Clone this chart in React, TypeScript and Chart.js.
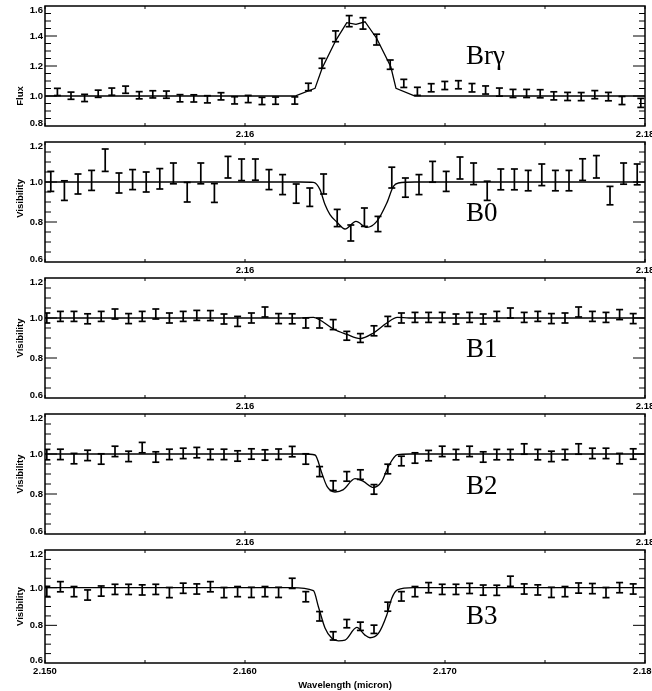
import React, { useEffect, useRef } from "react";
import { Chart, registerables } from "chart.js";
Chart.register(...registerables);

// ---------- data ----------
const fluxWave = [2.15062, 2.1513, 2.15198, 2.15266, 2.15334, 2.15403, 2.15471, 2.15539, 2.15607, 2.15675, 2.15744, 2.15812, 2.1588, 2.15948, 2.16016, 2.16085, 2.16153, 2.16249, 2.16317, 2.16385, 2.16453, 2.16521, 2.1659, 2.16658, 2.16726, 2.16794, 2.16862, 2.16931, 2.16999, 2.17067, 2.17135, 2.17203, 2.17272, 2.1734, 2.17408, 2.17476, 2.17544, 2.17613, 2.17681, 2.17749, 2.17817, 2.17885, 2.17979];
const fluxValue = [1.027, 1.002, 0.987, 1.015, 1.029, 1.042, 1.005, 1.011, 1.009, 0.985, 0.984, 0.978, 0.998, 0.971, 0.98, 0.967, 0.969, 0.97, 1.06, 1.218, 1.398, 1.499, 1.484, 1.376, 1.209, 1.084, 1.031, 1.055, 1.07, 1.075, 1.055, 1.04, 1.026, 1.017, 1.017, 1.015, 1.001, 0.997, 0.996, 1.009, 0.996, 0.97, 0.954];
const fluxError = [0.024, 0.024, 0.024, 0.024, 0.024, 0.024, 0.024, 0.024, 0.024, 0.024, 0.024, 0.024, 0.024, 0.024, 0.024, 0.024, 0.024, 0.024, 0.025, 0.033, 0.036, 0.037, 0.038, 0.036, 0.031, 0.027, 0.027, 0.027, 0.027, 0.027, 0.028, 0.027, 0.027, 0.027, 0.027, 0.027, 0.027, 0.027, 0.027, 0.027, 0.028, 0.027, 0.03];
const fluxModelWave = [2.15, 2.1625, 2.1635, 2.16386, 2.16455, 2.16509, 2.16555, 2.166, 2.16658, 2.16729, 2.16755, 2.1685, 2.18];
const fluxModelValue = [1.0, 1.0, 1.051, 1.187, 1.373, 1.489, 1.478, 1.495, 1.385, 1.195, 1.051, 1.0, 1.0];

const b0Wave = [2.15029, 2.15097, 2.15165, 2.15233, 2.15301, 2.1537, 2.15438, 2.15506, 2.15574, 2.15642, 2.15711, 2.15779, 2.15847, 2.15915, 2.15983, 2.16052, 2.1612, 2.16188, 2.16256, 2.16324, 2.16393, 2.16461, 2.16529, 2.16597, 2.16665, 2.16734, 2.16802, 2.1687, 2.16938, 2.17006, 2.17075, 2.17143, 2.17211, 2.17279, 2.17347, 2.17416, 2.17484, 2.17552, 2.1762, 2.17688, 2.17757, 2.17825, 2.17893, 2.17961];
const b0Value = [1.003, 0.957, 0.99, 1.008, 1.109, 0.995, 1.012, 1.0, 1.016, 1.043, 0.949, 1.043, 0.945, 1.074, 1.061, 1.062, 1.012, 0.987, 0.942, 0.924, 0.99, 0.82, 0.745, 0.824, 0.79, 1.022, 0.972, 0.987, 1.051, 1.003, 1.07, 1.041, 0.956, 1.013, 1.013, 1.007, 1.036, 1.007, 1.007, 1.062, 1.076, 0.932, 1.042, 1.038];
const b0Error = [0.05, 0.049, 0.05, 0.05, 0.056, 0.05, 0.05, 0.05, 0.051, 0.052, 0.049, 0.052, 0.047, 0.054, 0.054, 0.053, 0.05, 0.05, 0.048, 0.046, 0.05, 0.043, 0.04, 0.046, 0.038, 0.052, 0.048, 0.05, 0.052, 0.05, 0.055, 0.054, 0.048, 0.052, 0.052, 0.051, 0.054, 0.051, 0.051, 0.054, 0.056, 0.046, 0.053, 0.052];
const b0ModelWave = [2.15, 2.16275, 2.16342, 2.16375, 2.164, 2.16425, 2.16459, 2.165, 2.16555, 2.16609, 2.16659, 2.16709, 2.16742, 2.16767, 2.1685, 2.18];
const b0ModelValue = [1.0, 1.0, 0.998, 0.962, 0.887, 0.837, 0.8, 0.765, 0.803, 0.773, 0.803, 0.895, 0.978, 0.995, 1.0, 1.0];

const baseWave = [2.15009, 2.15077, 2.15145, 2.15213, 2.15281, 2.1535, 2.15418, 2.15486, 2.15554, 2.15622, 2.15691, 2.15759, 2.15827, 2.15895, 2.15963, 2.16032, 2.161, 2.16168, 2.16236, 2.16304, 2.16373, 2.16441, 2.16509, 2.16577, 2.16645, 2.16714, 2.16782, 2.1685, 2.16918, 2.16986, 2.17055, 2.17123, 2.17191, 2.17259, 2.17327, 2.17396, 2.17464, 2.17532, 2.176, 2.17668, 2.17737, 2.17805, 2.17873, 2.17941];

const b1Value = [1.0, 1.008, 1.008, 0.996, 1.008, 1.02, 0.997, 1.008, 1.02, 1.0, 1.008, 1.013, 1.012, 0.995, 0.983, 1.0, 1.03, 0.997, 0.996, 0.975, 0.975, 0.967, 0.911, 0.9, 0.936, 0.983, 1.0, 1.003, 1.003, 1.003, 0.995, 1.003, 0.995, 1.008, 1.025, 1.003, 1.008, 0.997, 1.0, 1.03, 1.008, 1.003, 1.017, 0.997];
const b1Error = [0.025, 0.025, 0.025, 0.025, 0.025, 0.025, 0.025, 0.025, 0.025, 0.025, 0.025, 0.025, 0.025, 0.025, 0.025, 0.025, 0.025, 0.025, 0.025, 0.025, 0.025, 0.025, 0.022, 0.022, 0.025, 0.025, 0.025, 0.025, 0.025, 0.025, 0.025, 0.025, 0.025, 0.025, 0.025, 0.025, 0.025, 0.025, 0.025, 0.025, 0.025, 0.025, 0.025, 0.025];
const b1ModelWave = [2.15, 2.16275, 2.16342, 2.16375, 2.16442, 2.16509, 2.16575, 2.16642, 2.16709, 2.16762, 2.1682, 2.18];
const b1ModelValue = [1.0, 1.0, 1.003, 0.99, 0.945, 0.918, 0.897, 0.925, 0.975, 1.003, 1.0, 1.0];

const b2Value = [0.997, 0.998, 0.977, 0.993, 0.975, 1.013, 0.988, 1.032, 0.985, 0.998, 1.003, 1.007, 0.998, 0.998, 0.99, 1.0, 0.995, 0.999, 1.012, 0.975, 0.912, 0.842, 0.888, 0.897, 0.823, 0.925, 0.965, 0.98, 0.992, 1.013, 0.997, 1.013, 0.985, 0.997, 0.997, 1.025, 0.997, 0.988, 0.997, 1.025, 1.003, 1.003, 0.977, 1.0];
const b2Error = [0.026, 0.026, 0.026, 0.026, 0.026, 0.026, 0.026, 0.026, 0.026, 0.026, 0.026, 0.026, 0.026, 0.026, 0.026, 0.026, 0.026, 0.026, 0.026, 0.026, 0.025, 0.024, 0.024, 0.024, 0.024, 0.024, 0.024, 0.026, 0.026, 0.026, 0.026, 0.026, 0.026, 0.026, 0.026, 0.026, 0.026, 0.026, 0.026, 0.026, 0.026, 0.026, 0.026, 0.026];
const b2ModelWave = [2.15, 2.1629, 2.1635, 2.16384, 2.1641, 2.1645, 2.16492, 2.1655, 2.16592, 2.16642, 2.16684, 2.16717, 2.16762, 2.16825, 2.18];
const b2ModelValue = [1.0, 1.0, 0.995, 0.905, 0.838, 0.81, 0.822, 0.877, 0.863, 0.833, 0.863, 0.938, 0.997, 1.0, 1.0];

const b3Value = [0.98, 1.005, 0.979, 0.961, 0.982, 0.991, 0.991, 0.988, 0.991, 0.974, 0.997, 0.993, 1.005, 0.974, 0.979, 0.975, 0.979, 0.975, 1.023, 0.952, 0.848, 0.744, 0.809, 0.795, 0.779, 0.899, 0.954, 0.979, 1.0, 0.991, 0.991, 0.996, 0.987, 0.986, 1.034, 0.993, 0.988, 0.975, 0.979, 0.998, 0.995, 0.974, 1.0, 0.993];
const b3Error = [0.027, 0.027, 0.027, 0.027, 0.027, 0.027, 0.027, 0.027, 0.027, 0.027, 0.027, 0.027, 0.027, 0.027, 0.027, 0.027, 0.027, 0.027, 0.027, 0.027, 0.025, 0.022, 0.022, 0.022, 0.022, 0.024, 0.025, 0.027, 0.027, 0.027, 0.027, 0.027, 0.027, 0.027, 0.027, 0.027, 0.027, 0.027, 0.027, 0.027, 0.027, 0.027, 0.027, 0.027];
const b3ModelWave = [2.15, 2.16234, 2.16342, 2.16367, 2.164, 2.16434, 2.16467, 2.165, 2.16559, 2.166, 2.16625, 2.16667, 2.16709, 2.16734, 2.16762, 2.16842, 2.18];
const b3ModelValue = [1.0, 1.0, 0.984, 0.899, 0.786, 0.731, 0.718, 0.722, 0.789, 0.748, 0.734, 0.757, 0.855, 0.944, 0.988, 1.0, 1.0];

const xTickValues = [2.15, 2.155, 2.16, 2.165, 2.17, 2.175, 2.18];
const upperXLabels = ["", "", "2.16", "", "", "", "2.18"];
const bottomXLabels = ["2.150", "", "2.160", "", "2.170", "", "2.180"];
const fluxYTicks = [0.8, 1.0, 1.2, 1.4, 1.6];
const visYTicks = [0.6, 0.8, 1.0, 1.2];
const panelLabels = ["Br\u03b3", "B0", "B1", "B2", "B3"];
const yTitles = ["Flux", "Visibility", "Visibility", "Visibility", "Visibility"];
const xTitle = "Wavelength (micron)";

// ---------- layout / style ----------
const FONT = "'Liberation Sans', Arial, sans-serif";
const panels = [
  { top: 0, height: 146, axisH: 20, ymin: 0.8, ymax: 1.6, yTicks: fluxYTicks, wave: fluxWave, value: fluxValue, err: fluxError, mWave: fluxModelWave, mValue: fluxModelValue, smooth: false, labelY: 1.26, titleFrac: 0.75, bottom: false },
  { top: 136, height: 146, axisH: 20, ymin: 0.6, ymax: 1.2, yTicks: visYTicks, wave: b0Wave, value: b0Value, err: b0Error, mWave: b0ModelWave, mValue: b0ModelValue, smooth: true, labelY: 0.84, titleFrac: 0.47, bottom: false },
  { top: 272, height: 146, axisH: 20, ymin: 0.6, ymax: 1.2, yTicks: visYTicks, wave: baseWave, value: b1Value, err: b1Error, mWave: b1ModelWave, mValue: b1ModelValue, smooth: true, labelY: 0.84, titleFrac: 0.5, bottom: false },
  { top: 408, height: 146, axisH: 20, ymin: 0.6, ymax: 1.2, yTicks: visYTicks, wave: baseWave, value: b2Value, err: b2Error, mWave: b2ModelWave, mValue: b2ModelValue, smooth: true, labelY: 0.835, titleFrac: 0.5, bottom: false },
  { top: 544, height: 147, axisH: 28, ymin: 0.6, ymax: 1.2, yTicks: visYTicks, wave: baseWave, value: b3Value, err: b3Error, mWave: b3ModelWave, mValue: b3ModelValue, smooth: true, labelY: 0.845, titleFrac: 0.5, bottom: true },
];

const idlPlugin = {
  id: "idl",
  afterDraw(chart: any, _args: any, opts: any) {
    const { ctx, chartArea: a, scales } = chart;
    const x = scales.x, y = scales.y;
    ctx.save();
    ctx.strokeStyle = "#000";
    ctx.lineWidth = 1.5;
    ctx.strokeRect(a.left, a.top, a.right - a.left, a.bottom - a.top);
    ctx.lineWidth = 1;
    ctx.beginPath();
    const n = Math.round((y.max - y.min) / 0.05);
    for (let k = 1; k < n; k++) {
      const py = y.getPixelForValue(y.min + k * 0.05);
      const len = k % 4 === 0 ? 12 : 6;
      ctx.moveTo(a.left, py); ctx.lineTo(a.left + len, py);
      ctx.moveTo(a.right, py); ctx.lineTo(a.right - len, py);
    }
    for (const v of xTickValues) {
      const px = x.getPixelForValue(v);
      ctx.moveTo(px, a.top); ctx.lineTo(px, a.top + 3);
      ctx.moveTo(px, a.bottom); ctx.lineTo(px, a.bottom - 3);
    }
    ctx.stroke();
    // y tick labels (end labels nudged inside the frame)
    ctx.fillStyle = "#000";
    ctx.font = `bold 9.5px ${FONT}`;
    ctx.textAlign = "right";
    ctx.textBaseline = "middle";
    const ticks = y.ticks;
    ticks.forEach((t: any, i: number) => {
      let py = y.getPixelForValue(t.value) + 0.5;
      if (i === ticks.length - 1) py += 4;
      if (i === 0) py -= 3;
      ctx.fillText(Number(t.value).toFixed(1), a.left - 2, py);
    });
    // y title
    ctx.textAlign = "center";
    ctx.translate(20, a.top + (a.bottom - a.top) * opts.titleFrac);
    ctx.rotate(-Math.PI / 2);
    ctx.fillText(opts.title, 0, 0);
    ctx.restore();
    // panel label
    ctx.save();
    ctx.fillStyle = "#000";
    ctx.font = `27px 'Liberation Serif', 'DejaVu Serif', serif`;
    ctx.textAlign = "left";
    ctx.textBaseline = "middle";
    ctx.fillText(opts.label, x.getPixelForValue(2.17105), y.getPixelForValue(opts.labelY));
    ctx.restore();
  },
};

function Panel({ cfg, idx }: { cfg: any; idx: number }) {
  const ref = useRef<HTMLCanvasElement>(null);
  useEffect(() => {
    const stems: any[] = [];
    const upCaps: any[] = [];
    const loCaps: any[] = [];
    cfg.wave.forEach((w: number, i: number) => {
      const v = cfg.value[i], e = cfg.err[i];
      stems.push({ x: w, y: v - e }, { x: w, y: v + e }, { x: w, y: null });
      upCaps.push({ x: w, y: v + e });
      loCaps.push({ x: w, y: v - e });
    });
    const model = cfg.mWave.map((w: number, i: number) => ({ x: w, y: cfg.mValue[i] }));
    const xLabels = cfg.bottom ? bottomXLabels : upperXLabels;
    const chart = new Chart(ref.current as HTMLCanvasElement, {
      type: "line",
      data: {
        datasets: [
          { data: model, borderColor: "#000", borderWidth: 1.3, pointRadius: 0, tension: 0, cubicInterpolationMode: cfg.smooth ? "monotone" : "default", fill: false } as any,
          { data: stems, borderColor: "#000", borderWidth: 1.7, pointRadius: 0, spanGaps: false, tension: 0, fill: false },
          { data: upCaps, showLine: false, pointStyle: "line", pointRadius: 3.5, pointBorderWidth: 1.7, pointBorderColor: "#000", borderColor: "#000" },
          { data: loCaps, showLine: false, pointStyle: "line", pointRadius: 3.5, pointBorderWidth: 1.7, pointBorderColor: "#000", borderColor: "#000" },
        ],
      },
      options: {
        animation: false,
        responsive: false,
        devicePixelRatio: 1,
        events: [],
        layout: { padding: { left: 0, right: 7, top: 6, bottom: 0 } },
        plugins: {
          legend: { display: false },
          tooltip: { enabled: false },
          idl: { title: yTitles[idx], titleFrac: cfg.titleFrac, label: panelLabels[idx], labelY: cfg.labelY },
        } as any,
        scales: {
          x: {
            type: "linear",
            min: 2.15,
            max: 2.18,
            grid: { display: false, drawTicks: false },
            border: { display: false },
            afterBuildTicks: (s: any) => { s.ticks = xTickValues.map((v) => ({ value: v })); },
            afterFit: (s: any) => { s.height = cfg.axisH; s.paddingLeft = 0; s.paddingRight = 0; },
            ticks: {
              autoSkip: false,
              maxRotation: 0,
              padding: 3,
              color: "#000",
              font: { family: FONT, size: 9.5, weight: "bold" },
              callback: (_v: any, i: number) => xLabels[i],
            },
            title: cfg.bottom
              ? { display: true, text: xTitle, color: "#000", font: { family: FONT, size: 9.5, weight: "bold" }, padding: { top: 0, bottom: 0 } }
              : { display: false },
          },
          y: {
            type: "linear",
            min: cfg.ymin,
            max: cfg.ymax,
            grid: { display: false, drawTicks: false },
            border: { display: false },
            afterBuildTicks: (s: any) => { s.ticks = cfg.yTicks.map((v: number) => ({ value: v })); },
            afterFit: (s: any) => { s.width = 45; s.paddingTop = 0; s.paddingBottom = 0; },
            ticks: { display: false },
          },
        },
      } as any,
      plugins: [idlPlugin as any],
    });
    return () => chart.destroy();
  }, []);
  return (
    <canvas
      ref={ref}
      width={652}
      height={cfg.height}
      style={{ position: "absolute", left: 0, top: cfg.top, width: 652, height: cfg.height }}
    />
  );
}

export default function App() {
  return (
    <div style={{ position: "absolute", left: 0, top: 0, width: 652, height: 691, background: "#fff", overflow: "hidden" }}>
      {panels.map((p, i) => (
        <Panel key={i} cfg={p} idx={i} />
      ))}
    </div>
  );
}
